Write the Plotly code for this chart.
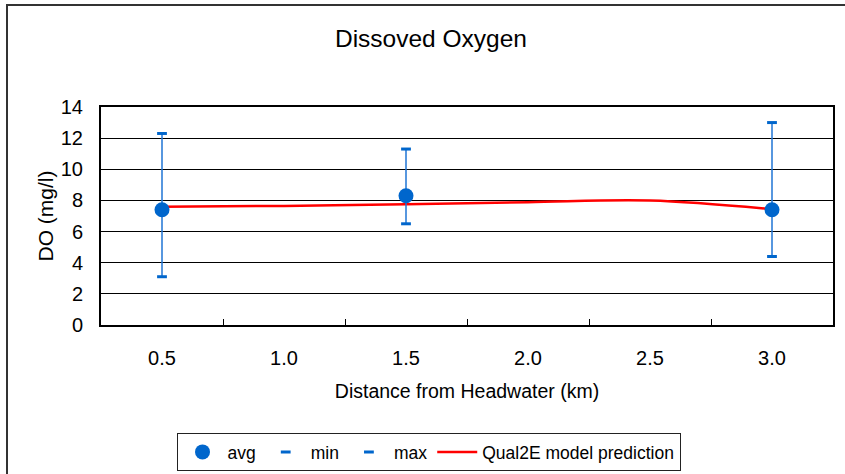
import plotly.graph_objects as go

# ---- data ----
categories = ["0.5", "1.0", "1.5", "2.0", "2.5", "3.0"]
obs_x = ["0.5", "1.5", "3.0"]
avg_vals = [7.4, 8.3, 7.4]
min_vals = [3.1, 6.5, 4.4]
max_vals = [12.3, 11.3, 13.0]
model_vals = [7.6, 7.65, 7.76, 7.89, 8.0, 7.44]

# ---- layout geometry (pixels) ----
W, H = 845, 474
L, R, T, B = 101, 12, 107, 149
pw, ph = W - L - R, H - T - B


def px(x):
    return (x - L) / pw


def py(y):
    return (H - B - y) / ph


FONT = "Liberation Sans, Arial, sans-serif"
BLUE = "#0066cc"
EBLUE = "#1f74d4"

fig = go.Figure()

fig.add_trace(go.Scatter(
    x=categories, y=model_vals, mode="lines", name="Qual2E model prediction",
    line=dict(color="#ff0000", width=2.5, shape="spline", smoothing=1.0),
    legendrank=4,
))

fig.add_trace(go.Scatter(
    x=obs_x, y=avg_vals, mode="markers", name="avg",
    marker=dict(color=BLUE, size=15, symbol="circle"),
    error_y=dict(
        type="data", symmetric=False,
        array=[mx - a for mx, a in zip(max_vals, avg_vals)],
        arrayminus=[a - mn for mn, a in zip(min_vals, avg_vals)],
        width=0, thickness=1.5, color=EBLUE,
    ),
    legendrank=1,
))

fig.add_trace(go.Scatter(
    x=obs_x, y=min_vals, mode="markers", name="min",
    marker=dict(symbol="line-ew", size=7, line=dict(color=BLUE, width=3)),
    legendrank=2,
))
fig.add_trace(go.Scatter(
    x=obs_x, y=max_vals, mode="markers", name="max",
    marker=dict(symbol="line-ew", size=7, line=dict(color=BLUE, width=3)),
    legendrank=3,
))

fig.update_layout(
    width=W, height=H,
    margin=dict(l=L, r=R, t=T, b=B, autoexpand=False),
    paper_bgcolor="white", plot_bgcolor="white",
    font=dict(family=FONT, size=20, color="black"),
    title=dict(text="Dissoved Oxygen", x=px(431), xref="paper", xanchor="center",
               y=1 - 38 / H, yref="container", yanchor="middle",
               font=dict(size=24.5, family=FONT, color="black")),
    showlegend=True,
    legend=dict(orientation="h", x=px(428.5), xanchor="center", y=py(433), yanchor="top",
                bordercolor="#222", borderwidth=1, font=dict(size=17.5, family=FONT),
                bgcolor="white", itemwidth=40),
    xaxis=dict(
        type="category", categoryorder="array", categoryarray=categories,
        range=[-0.5, 5.5],
        tickson="boundaries", ticks="inside", ticklen=6, tickwidth=1, tickcolor="black",
        showgrid=False, showline=True, linewidth=2, linecolor="black", mirror=True,
        ticklabelstandoff=14,
        title=dict(text="Distance from Headwater (km)", standoff=16, font=dict(size=19.5)),
        zeroline=False,
    ),
    yaxis=dict(
        range=[0, 14], dtick=2, tick0=0, showgrid=True, gridcolor="black", gridwidth=1,
        showline=True, linewidth=2, linecolor="black", mirror=True, ticks="",
        ticklabelstandoff=12, zeroline=False,
        title=dict(text="DO (mg/l)", standoff=1, font=dict(size=21)),
    ),
    shapes=[dict(type="rect", xref="paper", yref="paper",
                 x0=px(7), x1=px(852), y0=py(5), y1=py(482),
                 line=dict(color="#333", width=2), fillcolor="rgba(0,0,0,0)", layer="above")],
)

fig.write_html("out.html")
